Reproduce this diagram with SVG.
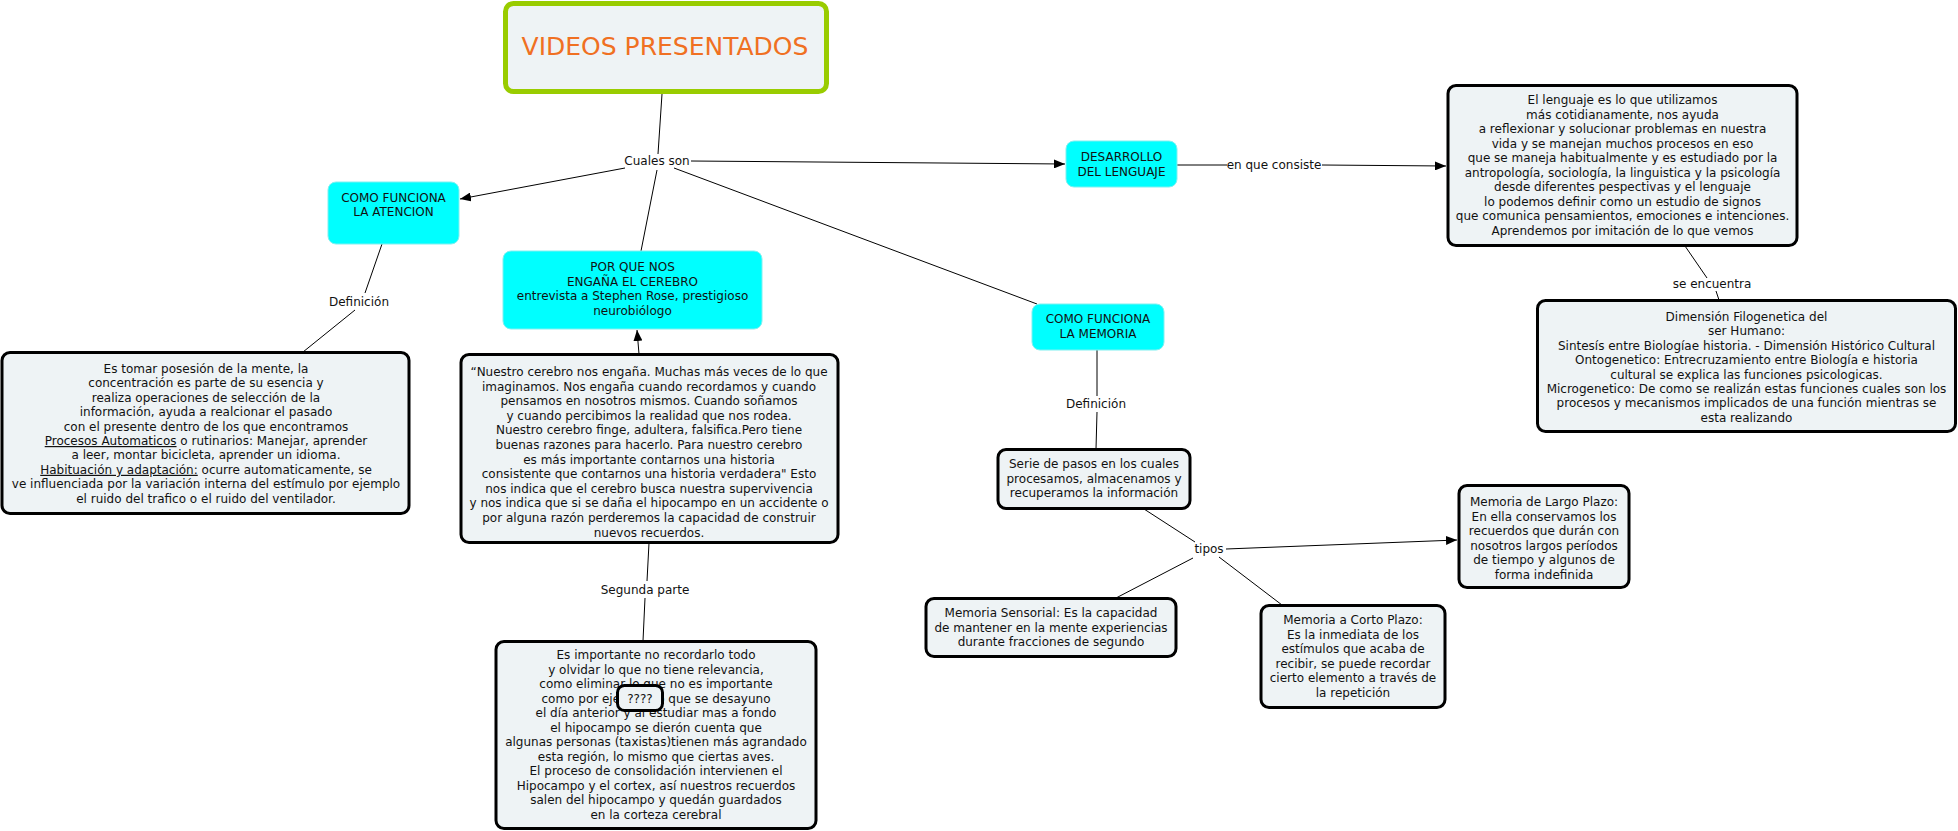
<svg xmlns="http://www.w3.org/2000/svg" width="1958" height="831" viewBox="0 0 1958 831">
<defs>
<marker id="arr" markerUnits="userSpaceOnUse" markerWidth="11" markerHeight="9" refX="11" refY="4.5" orient="auto">
<path d="M0,0 L11,4.5 L0,9 z" fill="#000"/>
</marker>
<style>
text{font-family:"DejaVu Sans","Verdana",sans-serif;font-size:12px;fill:#111;text-anchor:middle}
.box{fill:#eef3f5;stroke:#000;stroke-width:3}
.cyan{fill:#00ffff;stroke:#7ff0f0;stroke-width:1}
.title{fill:#eef3f5;stroke:#99cc00;stroke-width:5}
.conn line{stroke:#000;stroke-width:1}
.conn .a{marker-end:url(#arr)}
.u{text-decoration:underline}
</style>
</defs>
<rect width="1958" height="831" fill="#fff"/>

<g id="connectors" class="conn">
<line x1="662" y1="94" x2="658" y2="154"/>
<line class="a" x1="625" y1="168" x2="460" y2="199"/>
<line x1="657" y1="170" x2="641" y2="251"/>
<line class="a" x1="691" y1="161" x2="1065" y2="164"/>
<line x1="674" y1="168" x2="1037" y2="304"/>
<line x1="382" y1="244" x2="365" y2="293"/>
<line x1="355" y1="310" x2="303" y2="352"/>
<line class="a" x1="639" y1="354" x2="637" y2="330"/>
<line x1="649" y1="543" x2="647" y2="581"/>
<line x1="645" y1="598" x2="643" y2="641"/>
<line x1="1177" y1="165" x2="1227" y2="165"/>
<line class="a" x1="1322" y1="165" x2="1446" y2="166"/>
<line x1="1685" y1="246" x2="1707" y2="278"/>
<line x1="1716" y1="291" x2="1719" y2="300"/>
<line x1="1097" y1="350" x2="1097" y2="396"/>
<line x1="1097" y1="412" x2="1096" y2="449"/>
<line x1="1144" y1="509" x2="1195" y2="542"/>
<line class="a" x1="1226" y1="549" x2="1457" y2="540"/>
<line x1="1193" y1="558" x2="1116" y2="598"/>
<line x1="1219" y1="557" x2="1282" y2="605"/>
<text x="657" y="165">Cuales son</text>
<text x="359" y="306">Definición</text>
<text x="645" y="594">Segunda parte</text>
<text x="1274" y="169">en que consiste</text>
<text x="1712" y="288">se encuentra</text>
<text x="1096" y="408">Definición</text>
<text x="1209" y="553">tipos</text>
</g>

<g id="title">
<rect class="title" x="505.5" y="3.5" width="321" height="88" rx="8"/>
<text x="665" y="55" style="font-size:25px;fill:#f07022">VIDEOS PRESENTADOS</text>
</g>

<g id="atencion">
<rect class="cyan" x="328" y="182" width="131" height="62" rx="8"/>
<text x="393.5" y="202">COMO FUNCIONA</text>
<text x="393.5" y="216">LA ATENCION</text>
</g>

<g id="porque">
<rect class="cyan" x="503" y="251" width="259" height="78" rx="8"/>
<text x="632.5" y="271">POR QUE NOS</text>
<text x="632.5" y="285.6">ENGAÑA EL CEREBRO</text>
<text x="632.5" y="300.2">entrevista a Stephen Rose, prestigioso</text>
<text x="632.5" y="314.8">neurobiólogo</text>
</g>

<g id="desarrollo">
<rect class="cyan" x="1066" y="141" width="111" height="46" rx="8"/>
<text x="1121.5" y="161">DESARROLLO</text>
<text x="1121.5" y="176">DEL LENGUAJE</text>
</g>

<g id="memoria">
<rect class="cyan" x="1032" y="304" width="132" height="46" rx="8"/>
<text x="1098" y="323">COMO FUNCIONA</text>
<text x="1098" y="338">LA MEMORIA</text>
</g>

<g id="estomar">
<rect class="box" x="2" y="352.5" width="407" height="161" rx="8"/>
<text x="206" y="373">Es tomar posesión de la mente, la</text>
<text x="206" y="387.4">concentración es parte de su esencia y</text>
<text x="206" y="401.8">realiza operaciones de selección de la</text>
<text x="206" y="416.2">información, ayuda a realcionar el pasado</text>
<text x="206" y="430.6">con el presente dentro de los que encontramos</text>
<text x="206" y="445"><tspan class="u">Procesos Automaticos</tspan> o rutinarios: Manejar, aprender</text>
<text x="206" y="459.4">a leer, montar bicicleta, aprender un idioma.</text>
<text x="206" y="473.8"><tspan class="u">Habituación y adaptación:</tspan> ocurre automaticamente, se</text>
<text x="206" y="488.2">ve influenciada por la variación interna del estímulo por ejemplo</text>
<text x="206" y="502.6">el ruido del trafico o el ruido del ventilador.</text>
</g>

<g id="quote">
<rect class="box" x="461" y="354.5" width="377" height="188" rx="8"/>
<text x="649" y="376">“Nuestro cerebro nos engaña. Muchas más veces de lo que</text>
<text x="649" y="390.6">imaginamos. Nos engaña cuando recordamos y cuando</text>
<text x="649" y="405.2">pensamos en nosotros mismos. Cuando soñamos</text>
<text x="649" y="419.8">y cuando percibimos la realidad que nos rodea.</text>
<text x="649" y="434.4">Nuestro cerebro finge, adultera, falsifica.Pero tiene</text>
<text x="649" y="449">buenas razones para hacerlo. Para nuestro cerebro</text>
<text x="649" y="463.6">es más importante contarnos una historia</text>
<text x="649" y="478.2">consistente que contarnos una historia verdadera" Esto</text>
<text x="649" y="492.8">nos indica que el cerebro busca nuestra supervivencia</text>
<text x="649" y="507.4">y nos indica que si se daña el hipocampo en un accidente o</text>
<text x="649" y="522">por alguna razón perderemos la capacidad de construir</text>
<text x="649" y="536.6">nuevos recuerdos.</text>
</g>

<g id="importante">
<rect class="box" x="496" y="641.5" width="320" height="187" rx="8"/>
<text x="656" y="659">Es importante no recordarlo todo</text>
<text x="656" y="673.5">y olvidar lo que no tiene relevancia,</text>
<text x="656" y="688">como eliminar lo que no es importante</text>
<text x="656" y="702.5">como por ejemplo lo que se desayuno</text>
<text x="656" y="717">el día anterior y al estudiar mas a fondo</text>
<text x="656" y="731.5">el hipocampo se dierón cuenta que</text>
<text x="656" y="746">algunas personas (taxistas)tienen más agrandado</text>
<text x="656" y="760.5">esta región, lo mismo que ciertas aves.</text>
<text x="656" y="775">El proceso de consolidación intervienen el</text>
<text x="656" y="789.5">Hipocampo y el cortex, así nuestros recuerdos</text>
<text x="656" y="804">salen del hipocampo y quedán guardados</text>
<text x="656" y="818.5">en la corteza cerebral</text>
</g>

<g id="q4">
<rect class="box" x="617.5" y="685.5" width="45" height="25" rx="7"/>
<text x="640" y="703">????</text>
</g>

<g id="lenguaje">
<rect class="box" x="1448" y="85.5" width="349" height="160" rx="8"/>
<text x="1622.5" y="104">El lenguaje es lo que utilizamos</text>
<text x="1622.5" y="118.5">más cotidianamente, nos ayuda</text>
<text x="1622.5" y="133">a reflexionar y solucionar problemas en nuestra</text>
<text x="1622.5" y="147.5">vida y se manejan muchos procesos en eso</text>
<text x="1622.5" y="162">que se maneja habitualmente y es estudiado por la</text>
<text x="1622.5" y="176.5">antropología, sociología, la linguistica y la psicología</text>
<text x="1622.5" y="191">desde diferentes pespectivas y el lenguaje</text>
<text x="1622.5" y="205.5">lo podemos definir como un estudio de signos</text>
<text x="1622.5" y="220">que comunica pensamientos, emociones e intenciones.</text>
<text x="1622.5" y="234.5">Aprendemos por imitación de lo que vemos</text>
</g>

<g id="dimension">
<rect class="box" x="1537.5" y="300.5" width="418" height="131" rx="8"/>
<text x="1746.5" y="321">Dimensión Filogenetica del</text>
<text x="1746.5" y="335.4">ser Humano:</text>
<text x="1746.5" y="349.8">Sintesís entre Biologíae historia. - Dimensión Histórico Cultural</text>
<text x="1746.5" y="364.2">Ontogenetico: Entrecruzamiento entre Biología e historia</text>
<text x="1746.5" y="378.6">cultural se explica las funciones psicologicas.</text>
<text x="1746.5" y="393">Microgenetico: De como se realizán estas funciones cuales son los</text>
<text x="1746.5" y="407.4">procesos y mecanismos implicados de una función mientras se</text>
<text x="1746.5" y="421.8">esta realizando</text>
</g>

<g id="serie">
<rect class="box" x="998" y="449.5" width="192" height="59" rx="8"/>
<text x="1094" y="468">Serie de pasos en los cuales</text>
<text x="1094" y="482.5">procesamos, almacenamos y</text>
<text x="1094" y="497">recuperamos la información</text>
</g>

<g id="sensorial">
<rect class="box" x="926" y="598.5" width="250" height="58" rx="8"/>
<text x="1051" y="617">Memoria Sensorial: Es la capacidad</text>
<text x="1051" y="631.5">de mantener en la mente experiencias</text>
<text x="1051" y="646">durante fracciones de segundo</text>
</g>

<g id="corto">
<rect class="box" x="1261" y="605.5" width="184" height="102" rx="8"/>
<text x="1353" y="624">Memoria a Corto Plazo:</text>
<text x="1353" y="638.5">Es la inmediata de los</text>
<text x="1353" y="653">estímulos que acaba de</text>
<text x="1353" y="667.5">recibir, se puede recordar</text>
<text x="1353" y="682">cierto elemento a través de</text>
<text x="1353" y="696.5">la repetición</text>
</g>

<g id="largo">
<rect class="box" x="1459" y="485.5" width="170" height="102" rx="8"/>
<text x="1544" y="506">Memoria de Largo Plazo:</text>
<text x="1544" y="520.5">En ella conservamos los</text>
<text x="1544" y="535">recuerdos que durán con</text>
<text x="1544" y="549.5">nosotros largos períodos</text>
<text x="1544" y="564">de tiempo y algunos de</text>
<text x="1544" y="578.5">forma indefinida</text>
</g>
</svg>
